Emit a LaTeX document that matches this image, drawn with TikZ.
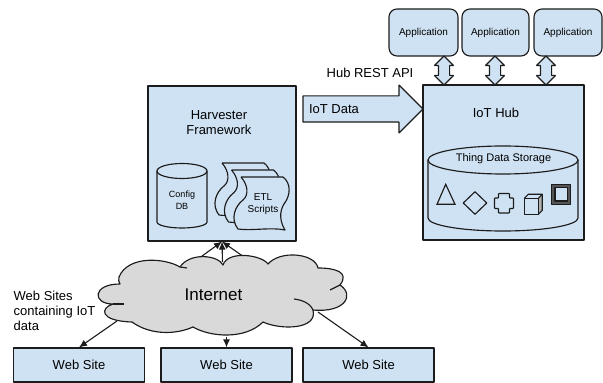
\documentclass[tikz,border=0pt]{standalone}
\usepackage{fontspec}
\setmainfont{Liberation Sans}
\usepackage{tikz}
\usetikzlibrary{arrows.meta,shapes.geometric,shapes.arrows}
\definecolor{boxblue}{HTML}{CFE2F3}
\definecolor{cloudgray}{HTML}{D9D9D9}
\definecolor{inkdark}{HTML}{1C1C1C}
\newcommand{\fsz}[1]{\fontsize{#1bp}{15bp}\selectfont}

\begin{document}
\begin{tikzpicture}[>={Latex[length=8bp,width=7bp]},line join=bevel,
  ink/.style={draw=inkdark,line width=1.15bp},
  bluebox/.style={ink,fill=boxblue,inner sep=0pt,font=\fsz{13}},
  appbox/.style={bluebox,rounded corners=8bp,minimum height=47bp,font=\fsz{10}},
  sitebox/.style={bluebox,minimum width=131bp,minimum height=34bp},
  hubarrow/.style={ink,fill=boxblue,double arrow,shape border rotate=90,inner sep=5bp,
    double arrow head extend=4bp,minimum height=29bp},
  link/.style={->,draw=inkdark,line width=1.1bp},
  sheet/.style={ink,fill=boxblue,line join=round},
]
\useasboundingbox (0bp,0bp) rectangle (603bp,383bp);
%%
\node (harvester) at (222.0bp,219.5bp) [bluebox,minimum width=148bp,minimum height=155bp] {};
  \node (hub) at (503.5bp,220.5bp) [bluebox,minimum width=161bp,minimum height=155bp] {};
  \node (harvesterlabel) at (219.0bp,260.0bp) [align=center,font=\fsz{13}] {Harvester\\Framework};
  \node (hublabel) at (496.0bp,270.0bp) [font=\fsz{13}] {IoT Hub};
  \node (restlabel) at (370.0bp,310.0bp) [font=\fsz{13}] {Hub REST API};
%
\node (appa) at (423.5bp,350.5bp) [appbox,minimum width=69bp] {Application};
  \node (appb) at (495.5bp,350.5bp) [appbox,minimum width=67bp] {Application};
  \node (appc) at (568.0bp,350.5bp) [appbox,minimum width=68bp] {Application};
  \node (arrowa) at (444.0bp,312.5bp) [hubarrow] {};
  \node (arrowb) at (495.0bp,312.5bp) [hubarrow] {};
  \node (arrowc) at (546.0bp,312.5bp) [hubarrow] {};
%
\node (iotarrow) at (303.0bp,274.0bp) [ink,fill=boxblue,single arrow,anchor=tail,inner sep=12.5bp,outer sep=0pt,
    single arrow head extend=11bp,minimum height=120bp] {};
  \node (iotlabel) at (334.0bp,274.0bp) [font=\fsz{13}] {IoT Data};
%
% config db
\draw [ink,fill=boxblue] (157bp,212bp) -- (157bp,161bp) arc [start angle=180,end angle=360,x radius=25bp,y radius=6bp] -- (207bp,212bp);
  \draw [ink,fill=boxblue] (182bp,212bp) ellipse [x radius=25bp,y radius=7.5bp];
  \node (configdb) at (182.0bp,183.0bp) [align=center,font=\fsz{9},text depth=0pt] {Config\\[-3bp]DB};
% etl scripts
\foreach \dx/\dy in {-19/14,-9.5/7,0/0} {
  \draw [sheet,shift={(241bp+\dx bp,206bp+\dy bp)}] (0bp,0bp) -- (42bp,0bp) ..controls (50bp,-6bp) and (50bp,-18bp) .. (43bp,-27bp) ..controls (38bp,-35bp) and (39bp,-45bp) .. (44bp,-53bp) ..controls (30bp,-50bp) and (12bp,-54bp) .. (-3bp,-52bp) ..controls (-11bp,-42bp) and (-6bp,-29bp) .. (2bp,-23bp) ..controls (8bp,-18bp) and (7bp,-8bp) .. (0bp,0bp);
}
  \node (etl) at (263.0bp,180.0bp) [align=center,font=\fsz{10},text depth=0pt] {ETL\\[-3bp]Scripts};
%
% thing data storage
\draw [ink] (428bp,223bp) -- (428bp,165bp) arc [start angle=180,end angle=360,x radius=75bp,y radius=13bp] -- (578bp,223bp);
  \draw [ink] (503bp,223bp) ellipse [x radius=75bp,y radius=14bp];
  \node (storage) at (503.5bp,224.0bp) [font=\fsz{11}] {Thing Data Storage};
  \draw [ink,line join=miter] (445.7bp,198.7bp) -- (437bp,178.7bp) -- (455bp,178.7bp) -- cycle;
  \node (gemshape) at (475.0bp,180.0bp) [ink,diamond,inner sep=0pt,minimum width=24bp,minimum height=23bp] {};
  \draw [ink,rounded corners=0.6bp] (498.5bp,189.5bp) -- (509.5bp,189.5bp) -- (509.5bp,185bp) -- (513.5bp,185bp) -- (513.5bp,174.5bp) -- (509.5bp,174.5bp) -- (509.5bp,170bp) -- (498.5bp,170bp) -- (498.5bp,174.5bp) -- (494.5bp,174.5bp) -- (494.5bp,185bp) -- (498.5bp,185bp) -- cycle;
  \fill [gray!60] (538.3bp,168.7bp) -- (542.3bp,172.7bp) -- (542.3bp,188.7bp) -- (538.3bp,184.7bp) -- cycle;
  \draw [ink] (524.3bp,168.7bp) rectangle (538.3bp,184.7bp);
  \draw [ink] (524.3bp,184.7bp) -- (528.3bp,188.7bp) -- (542.3bp,188.7bp) -- (542.3bp,172.7bp) -- (538.3bp,168.7bp);
  \draw [ink] (538.3bp,184.7bp) -- (542.3bp,188.7bp);
  \draw [ink,fill=inkdark!75,even odd rule] (551.7bp,178.7bp) rectangle (570.3bp,198.7bp) (555bp,182bp) rectangle (567.3bp,195.5bp);
%
\node (sitea) at (79.0bp,18.0bp) [sitebox] {Web Site};
  \node (siteb) at (226.5bp,18.0bp) [sitebox] {Web Site};
  \node (sitec) at (368.5bp,18.0bp) [sitebox] {Web Site};
  \node (siteslabel) at (13.5bp,72.0bp) [anchor=west,align=left,inner sep=0pt,font=\fsz{13}] {Web Sites\\containing IoT\\data};
%
\coordinate (upa) at (198bp,124bp);
  \coordinate (upb) at (222.5bp,121bp);
  \coordinate (upc) at (244bp,126bp);
  \coordinate (downa) at (117bp,62bp);
  \coordinate (downb) at (226.5bp,46bp);
  \coordinate (downc) at (318bp,71bp);
  \draw [link] (upa) -- (harvester.south);
  \draw [link] (upb) -- (harvester.south);
  \draw [link] (upc) -- (harvester.south);
  \draw [link] (downa) -- (sitea.north);
  \draw [link] (downb) -- (siteb.north);
  \draw [link] (downc) -- (sitec.north);
%
% cloud
\draw [ink,fill=cloudgray,line join=round] (120bp,99bp) ..controls (92bp,99bp) and (92bp,79bp) .. (113bp,79bp) ..controls (100bp,75bp) and (99bp,62bp) .. (132bp,61bp) ..controls (150bp,48bp) and (175bp,48bp) .. (193bp,56bp) ..controls (210bp,46bp) and (245bp,43bp) .. (263bp,61bp) ..controls (280bp,53bp) and (318bp,53bp) .. (313bp,73bp) ..controls (345bp,70bp) and (355bp,88bp) .. (340bp,98bp) ..controls (350bp,111bp) and (335bp,115bp) .. (318bp,115bp) ..controls (315bp,130bp) and (280bp,133bp) .. (268bp,119bp) ..controls (262bp,128bp) and (228bp,133bp) .. (223bp,118bp) ..controls (218bp,128bp) and (190bp,131bp) .. (180bp,116bp) ..controls (165bp,125bp) and (128bp,128bp) .. (119bp,106bp) ..controls (118bp,103bp) and (119bp,101bp) .. cycle;
  \draw [ink] (113bp,79bp) -- (124bp,79bp);
  \draw [ink] (340bp,98bp) -- (330bp,93bp);
  \draw [ink] (313bp,73bp) ..controls (310bp,80bp) and (302bp,83bp) .. (294bp,84bp);
  \draw [ink] (180bp,116bp) -- (187bp,115bp);
  \node (internet) at (213.5bp,88.0bp) [font=\fsz{17}] {Internet};
%
\end{tikzpicture}
\end{document}
